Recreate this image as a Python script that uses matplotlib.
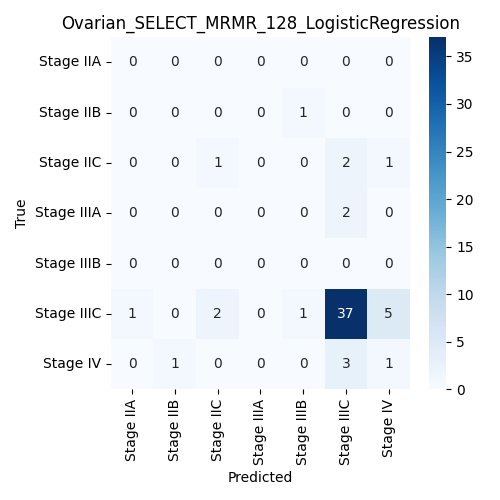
import matplotlib
matplotlib.use("Agg")
import matplotlib.pyplot as plt
import seaborn as sns
import numpy as np

labels = ["Stage IIA", "Stage IIB", "Stage IIC", "Stage IIIA", "Stage IIIB", "Stage IIIC", "Stage IV"]
cm = np.array([
    [0, 0, 0, 0, 0, 0, 0],
    [0, 0, 0, 0, 1, 0, 0],
    [0, 0, 1, 0, 0, 2, 1],
    [0, 0, 0, 0, 0, 2, 0],
    [0, 0, 0, 0, 0, 0, 0],
    [1, 0, 2, 0, 1, 37, 5],
    [0, 1, 0, 0, 0, 3, 1],
])

plt.figure(figsize=(5, 5), dpi=100)
sns.heatmap(cm, annot=True, fmt="d", cmap="Blues", xticklabels=labels, yticklabels=labels)
plt.title("Ovarian_SELECT_MRMR_128_LogisticRegression")
plt.xlabel("Predicted")
plt.ylabel("True")
plt.tight_layout()
plt.savefig("out.png")
